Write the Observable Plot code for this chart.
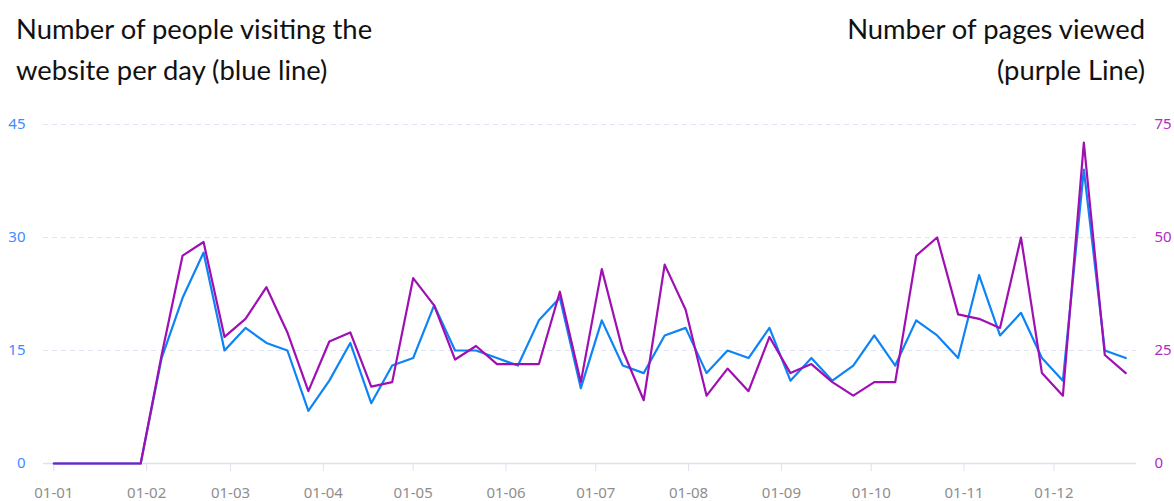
<!DOCTYPE html>
<html>
<head>
<meta charset="utf-8">
<script src="https://cdn.jsdelivr.net/npm/d3@7"></script>
<script src="https://cdn.jsdelivr.net/npm/@observablehq/plot@0.6"></script>
<style>
  html, body { margin: 0; padding: 0; background: #fff; }
  #wrap { position: relative; width: 1174px; height: 501px; overflow: hidden; }
  #head { position: relative; width: 1174px; height: 100px; }
  .t { position: absolute; top: 8px; font-family: Lato, "Noto Sans", sans-serif; font-size: 27.4px; line-height: 41px; color: #111; }
  #tl { left: 16px; text-align: left; }
  #tr { right: 29px; text-align: right; }
  svg { display: block; }
</style>
</head>
<body>
<div id="wrap">
  <div id="head">
    <div class="t" id="tl">Number of people visiting the<br>website per day (blue line)</div>
    <div class="t" id="tr">Number of pages viewed<br>(purple Line)</div>
  </div>
  <div id="chart"></div>
</div>
<script>
const dates = ["2001-01-01","2001-01-09","2001-01-16","2001-01-23","2001-01-30","2001-02-06","2001-02-13","2001-02-20","2001-02-27",
  "2001-03-06","2001-03-13","2001-03-20","2001-03-27","2001-04-03","2001-04-10","2001-04-17","2001-04-24","2001-05-01","2001-05-08",
  "2001-05-15","2001-05-22","2001-05-29","2001-06-05","2001-06-12","2001-06-19","2001-06-26","2001-07-03","2001-07-10","2001-07-17",
  "2001-07-24","2001-07-31","2001-08-07","2001-08-14","2001-08-21","2001-08-28","2001-09-04","2001-09-11","2001-09-18","2001-09-25",
  "2001-10-02","2001-10-09","2001-10-16","2001-10-23","2001-10-30","2001-11-06","2001-11-13","2001-11-20","2001-11-27","2001-12-04",
  "2001-12-11","2001-12-18","2001-12-25"];
const visitors = [0,0,0,0,0, 14,22,28,15,18,16,15, 7,11,16,8,13,14,21,15,15,14,13,19,22,10,
  19,13,12,17,18,12,15,14,18,11,14,11,13,17, 13,19,17,14,25,17,20,14,11,39,15,14];
const pages = [0,0,0,0,0, 24,46,49,28,32,39,29, 16,27,29,17,18,41,35,23,26,22,22,22,38,18,
  43,25,14,44,34,15,21,16,28,20,22,18,15,18, 18,46,50,33,32,30,50,20,15,71,24,20];
const monthTicks = ["2001-01-01","2001-02-01","2001-03-01","2001-04-01","2001-05-01","2001-06-01",
  "2001-07-01","2001-08-01","2001-09-01","2001-10-01","2001-11-01","2001-12-01"];
const leftTicks = [0, 15, 30, 45];
const rightTicks = [0, 25, 50, 75];

const leftMax = 45, rightMax = 75;
const rows = dates.map((d, i) => ({date: new Date(d + "T00:00:00Z"), visitors: visitors[i], pages: pages[i]}));
const toLeft = v => v * leftMax / rightMax;

const chart = Plot.plot({
  width: 1174,
  height: 401,
  marginLeft: 43,
  marginRight: 38,
  marginTop: 24,
  marginBottom: 38,
  style: {fontFamily: "'Noto Sans', sans-serif", fontSize: "15px", background: "#fff"},
  x: {type: "utc", domain: [new Date(Date.UTC(2000, 11, 28, 13)), new Date(Date.UTC(2001, 11, 28, 14))]},
  y: {domain: [0, leftMax]},
  marks: [
    Plot.gridY(leftTicks.filter(t => t > 0), {stroke: "#e0e6f1", strokeOpacity: 1, strokeDasharray: "5,4"}),
    Plot.ruleY([0], {stroke: "#dbe2f0", strokeWidth: 1.5}),
    Plot.axisX(monthTicks.map(d => new Date(d + "T00:00:00Z")), {
      tickFormat: d3.utcFormat("%y-%m"), tickSize: 8, tickPadding: 16, stroke: "#dbe2f0", color: "#8e8e8e", label: null
    }),
    Plot.axisY(leftTicks, {anchor: "left", tickSize: 0, tickPadding: 18, color: "#3d8bff", label: null}),
    Plot.axisY(rightTicks.map(toLeft), {anchor: "right", tickSize: 0, tickPadding: 18, color: "#b12cc2", label: null,
      tickFormat: v => String(Math.round(v * rightMax / leftMax))}),
    Plot.line(rows, {x: "date", y: "visitors", stroke: "#0d84f6", strokeWidth: 2.2}),
    Plot.line(rows, {x: "date", y: d => toLeft(d.pages), stroke: "#a00fb3", strokeWidth: 2.2})
  ]
});
document.getElementById("chart").appendChild(chart);
</script>
</body>
</html>
